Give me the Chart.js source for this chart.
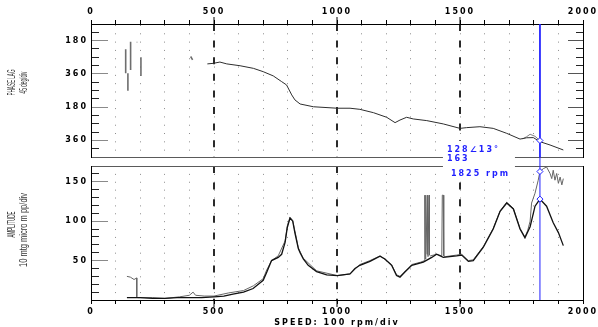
<!DOCTYPE html>
<html>
<head>
<meta charset="utf-8">
<script src="https://cdn.jsdelivr.net/npm/chart.js@4.4.0/dist/chart.umd.min.js"></script>
<style>
  body { margin: 0; background: #fff; }
  #wrap { position: relative; width: 598px; height: 327px; }
  #wrap canvas { position: absolute; left: 0; top: 0; }
</style>
</head>
<body>
<div id="wrap">
  <canvas id="phaseChart" width="598" height="327"></canvas>
  <canvas id="ampChart" width="598" height="327"></canvas>
</div>
<script>
// speed axis, rpm
const speedMin = 0, speedMax = 2000, speedStep = 100;
const majorSpeeds = [500, 1000, 1500];
const cursorRpm = 1825;

// phase lag (unwrapped deg, the labels wrap every 360)
const phaseMin = 90, phaseMax = 810, phaseStep = 45;
const phaseRpm = [473, 497, 524, 552, 606, 660, 700, 741, 775, 795, 816, 829, 850, 904, 1001, 1053, 1093, 1148,
  1202, 1236, 1256, 1283, 1310, 1365, 1432, 1500, 1527, 1581, 1635, 1690, 1744, 1771, 1798, 1825, 1866, 1920];
const phaseLag = [306, 303, 296, 306, 316, 330, 348, 371, 402, 420, 474, 501, 523, 538, 546, 546, 552, 570,
  595, 624, 610, 595, 604, 613, 631, 655, 651, 646, 655, 682, 713, 706, 705, 727, 745, 772];
const phaseRpm2 = [1755, 1771, 1785, 1805, 1825];
const phaseLag2 = [712, 700, 687, 698, 721];
// start-up noise, null = gap
const noiseRpm = [141, 141, 141, 150, 150, 150, 161, 161, 161, 203, 203, 203, 168, 170, 170, 186, 188, 188, 405, 409, 413];
const noiseLag = [227, 357, null, 357, 451, null, 186, 339, null, 270, 372, null, 94, 94, null, 189, 189, null, 266, 275, 284];

// amplitude
const ampMin = 0, ampMax = 170, ampStep = 10;
const ampRpmA = [146, 200, 250, 300, 350, 400, 450, 500, 540, 577, 620, 659, 700, 714, 734, 761, 775, 789, 798, 809,
  820, 829, 843, 850, 863, 883, 917, 958, 1001, 1053, 1073, 1093, 1134, 1175, 1195, 1222, 1242, 1256, 1276, 1304,
  1351, 1385, 1405, 1432, 1486, 1507, 1534, 1554, 1595, 1635, 1663, 1690, 1717, 1744, 1764, 1785, 1805, 1825,
  1852, 1879, 1900, 1920];
const ampA = [3, 3, 2, 2, 3, 3, 3, 4, 5, 7.5, 10, 14.6, 25, 35, 50, 54, 58, 73, 92, 104,
  100, 85, 65, 60, 52, 44, 36, 32, 31, 33, 40, 44, 49, 55.5, 52, 44, 31, 29, 35.5, 44,
  48, 54, 58, 54, 56, 57, 49, 50, 67, 90, 112.5, 123, 115.5, 90, 79, 93, 119, 128,
  119, 98, 85.5, 69];
const ampRpmB = [146, 160, 175, 186, 186, 190, 250, 300, 360, 400, 415, 425, 460, 500, 560, 620, 660, 700, 714, 734,
  761, 789, 798, 809, 820, 843, 863, 917, 1001, 1053, 1093, 1134, 1175, 1222, 1242, 1256, 1276, 1304, 1340,
  1356, 1357, 1359, 1361, 1366, 1368, 1370, 1374, 1376, 1380, 1405, 1426, 1428, 1432, 1434, 1440, 1486, 1507,
  1534, 1554, 1595, 1635, 1663, 1690, 1717, 1744, 1764, 1775, 1785, 1791, 1805, 1818, 1825, 1839, 1852, 1866,
  1873, 1879, 1886, 1893, 1900, 1907, 1914, 1920];
const ampB = [30, 29, 26, 28, 4, 3, 3, 2, 4, 6, 10, 6, 5, 5, 9, 12, 18, 27, 38, 50,
  56, 75, 94, 105, 101, 66, 53, 37, 31, 33, 45, 50, 56, 45, 32, 30, 36, 45, 48,
  50, 133, 52, 133, 58, 133, 55, 133, 57, 56, 58, 56, 133, 133, 56, 55, 57, 58,
  50, 51, 68, 91, 113, 124, 116, 91, 80, 88, 100, 123, 135.5, 152, 163, 166.7, 168.7, 160.5,
  154, 164.6, 152, 160.5, 148, 156, 146, 154];

// cursor readout
const readAmpA = 128, readPhase = 13, readAmpB = 163;

const blue = '#1f1fff';
const labelFont = { family: 'DejaVu Sans', size: 8, weight: 'bold' };
const pts = (xs, ys) => xs.map((x, i) => ({ x: x, y: ys[i] }));

// text bits : wide tick labels, squeezed side titles, cursor readout
const chartText = {
  id: 'chartText',
  beforeDraw(chart) {
    chart.ctx.letterSpacing = '2px';
  },
  afterDraw(chart, args, opts) {
    const ctx = chart.ctx;
    ctx.save();
    if (opts.readout) {
      const cx = chart.scales.x.getPixelForValue(cursorRpm);
      ctx.fillStyle = '#fff';
      ctx.fillRect(cx - 97, 141, 72, 39);
      ctx.fillStyle = blue;
      ctx.font = 'bold 8px "DejaVu Sans"';
      ctx.textBaseline = 'alphabetic';
      ctx.textAlign = 'left';
      ctx.fillText(readAmpA + '\u2220' + readPhase + '\u00b0', cx - 93, 152);
      ctx.fillText(String(readAmpB), cx - 93, 161);
      ctx.fillText(cursorRpm + ' rpm', cx - 89, 176);
    }
    ctx.letterSpacing = '0px';
    ctx.fillStyle = '#333';
    ctx.font = '11px "Liberation Sans"';
    ctx.textAlign = 'center';
    ctx.textBaseline = 'middle';
    opts.titles.forEach(t => {
      ctx.save();
      ctx.translate(t.x, t.y);
      ctx.rotate(-Math.PI / 2);
      ctx.fillText(t.text, 0, 0, t.w);
      ctx.restore();
    });
    ctx.restore();
  }
};

function speedAxis(pos, height, dotGap, title) {
  return {
    type: 'linear', position: pos, min: speedMin, max: speedMax, weight: 1,
    ticks: { stepSize: speedStep, autoSkip: false, maxRotation: 0, color: '#000', font: labelFont, padding: 3,
      callback: v => v % 500 === 0 ? String(v) : '' },
    grid: { color: '#8c8c8c', lineWidth: 1, drawTicks: true, tickLength: 4, tickColor: '#000' },
    border: { color: '#000', width: 1, dash: [1, dotGap] },
    title: title ? { display: true, text: title, color: '#000', font: { family: 'DejaVu Sans', size: 8, weight: 'bold', lineHeight: 1 }, padding: 0 } : { display: false },
    afterFit: s => { s.height = height; s.paddingLeft = 0; s.paddingRight = 0; }
  };
}

function majorAxis(pos) {
  return {
    type: 'linear', position: pos, min: speedMin, max: speedMax, weight: 0,
    afterBuildTicks: s => { s.ticks = majorSpeeds.map(v => ({ value: v })); },
    ticks: { display: false },
    grid: { color: '#2a2a2a', lineWidth: 2, drawTicks: true, tickLength: 7, tickColor: '#000', tickWidth: 1 },
    border: { display: false, dash: [7, 9.6] },
    afterFit: s => { s.height = 0; s.paddingLeft = 0; s.paddingRight = 0; }
  };
}

function edgeAxis(pos, color) {
  return {
    type: 'linear', position: pos, min: speedMin, max: speedMax,
    ticks: { display: false }, grid: { display: false, drawTicks: false },
    border: { color: color, width: 1 },
    afterFit: s => { s.height = 0; s.paddingLeft = 0; s.paddingRight = 0; }
  };
}

function leftAxis(min, max, step, reverse, isMajor, label) {
  return {
    type: 'linear', position: 'left', min: min, max: max, reverse: reverse,
    ticks: { stepSize: step, autoSkip: false, color: '#000', font: labelFont, padding: 3,
      callback: v => isMajor(v) ? label(v) : '' },
    grid: { drawTicks: false, lineWidth: 1, color: c => (c.tick && isMajor(c.tick.value)) ? '#8a8a8a' : '#262626' },
    border: { color: '#000', dash: c => c.tick ? (isMajor(c.tick.value) ? [16, 2000] : [7, 2000]) : [] },
    afterFit: s => { s.width = 91; s.paddingTop = 0; s.paddingBottom = 0; }
  };
}

const phaseMajor = v => v % 180 === 0;
const ampMajor = v => v > 0 && v % 50 === 0;

const baseOpts = {
  responsive: false,
  animation: false,
  events: [],
  plugins: { legend: { display: false }, tooltip: { enabled: false } },
  elements: { line: { tension: 0 }, point: { radius: 0 } }
};

const markPhase = phaseLag2[phaseRpm2.indexOf(cursorRpm)];

new Chart(document.getElementById('phaseChart'), {
  type: 'scatter',
  data: {
    datasets: [
      { data: [{ x: cursorRpm, y: markPhase }], pointStyle: 'rectRot', pointRadius: 3, borderColor: blue, backgroundColor: '#fff', borderWidth: 1 },
      { data: [{ x: cursorRpm, y: phaseMin }, { x: cursorRpm, y: phaseMax }], showLine: true, borderColor: blue, borderWidth: 1 },
      { data: pts(phaseRpm, phaseLag), showLine: true, borderColor: '#2e2e2e', borderWidth: 1 },
      { data: pts(phaseRpm2, phaseLag2), showLine: true, borderColor: '#808080', borderWidth: 1 },
      { data: pts(noiseRpm, noiseLag), showLine: true, spanGaps: false, borderColor: '#6e6e6e', borderWidth: 1.6 }
    ]
  },
  options: Object.assign({}, baseOpts, {
    layout: { autoPadding: false, padding: { top: 0, left: 0, right: 0, bottom: 170 } },
    plugins: Object.assign({}, baseOpts.plugins, {
      chartText: { readout: false, titles: [
        { text: 'PHASE LAG', x: 11.5, y: 82.5, w: 26 },
        { text: '45 deg/div', x: 23.5, y: 82.5, w: 22 }
      ] }
    }),
    scales: {
      x: speedAxis('top', 24, 7.31, null),
      xm: majorAxis('top'),
      xb: edgeAxis('bottom', '#5a5a5a'),
      y: leftAxis(phaseMin, phaseMax, phaseStep, true, phaseMajor, v => (v % 360 === 0 ? '360' : '180')),
      yr: {
        type: 'linear', position: 'right', min: phaseMin, max: phaseMax, reverse: true,
        ticks: { display: false, stepSize: phaseStep },
        grid: { drawTicks: false, lineWidth: 1, color: c => (c.tick && phaseMajor(c.tick.value)) ? '#555' : '#262626' },
        border: { color: '#000', dash: c => {
          if (!c.tick) return [];
          const w = c.chart.chartArea.right - c.chart.chartArea.left;
          const len = phaseMajor(c.tick.value) ? 15 : 7;
          return [0, w - len, len, 2000];
        } },
        afterFit: s => { s.width = 15; s.paddingTop = 0; s.paddingBottom = 0; }
      }
    }
  }),
  plugins: [chartText]
});

new Chart(document.getElementById('ampChart'), {
  type: 'scatter',
  data: {
    datasets: [
      { data: [{ x: cursorRpm, y: ampA[ampRpmA.indexOf(cursorRpm)] }, { x: cursorRpm, y: ampB[ampRpmB.indexOf(cursorRpm)] }],
        pointStyle: 'rectRot', pointRadius: 3, borderColor: blue, backgroundColor: '#fff', borderWidth: 1 },
      { data: [{ x: cursorRpm, y: ampMin }, { x: cursorRpm, y: 182 }], showLine: true, borderColor: blue, borderWidth: 1, clip: false },
      { data: pts(ampRpmA, ampA), showLine: true, borderColor: '#111', borderWidth: 1.3 },
      { data: pts(ampRpmB, ampB), showLine: true, borderColor: '#666', borderWidth: 1 }
    ]
  },
  options: Object.assign({}, baseOpts, {
    layout: { autoPadding: false, padding: { top: 166, left: 0, right: 0, bottom: 0 } },
    plugins: Object.assign({}, baseOpts.plugins, {
      chartText: { readout: true, titles: [
        { text: 'AMPLITUDE', x: 11.5, y: 224.5, w: 26 },
        { text: '10 mtg micro m pp/div', x: 24, y: 230, w: 74 }
      ] }
    }),
    scales: {
      x: speedAxis('bottom', 27, 6.88, 'SPEED: 100 rpm/div'),
      xm: majorAxis('bottom'),
      xt: edgeAxis('top', '#5a5a5a'),
      y: leftAxis(ampMin, ampMax, ampStep, false, ampMajor, v => String(v)),
      yr: {
        type: 'linear', position: 'right', min: ampMin, max: ampMax,
        ticks: { display: false }, grid: { display: false, drawTicks: false },
        border: { color: '#000' },
        afterFit: s => { s.width = 15; s.paddingTop = 0; s.paddingBottom = 0; }
      }
    }
  }),
  plugins: [chartText]
});
</script>
</body>
</html>
